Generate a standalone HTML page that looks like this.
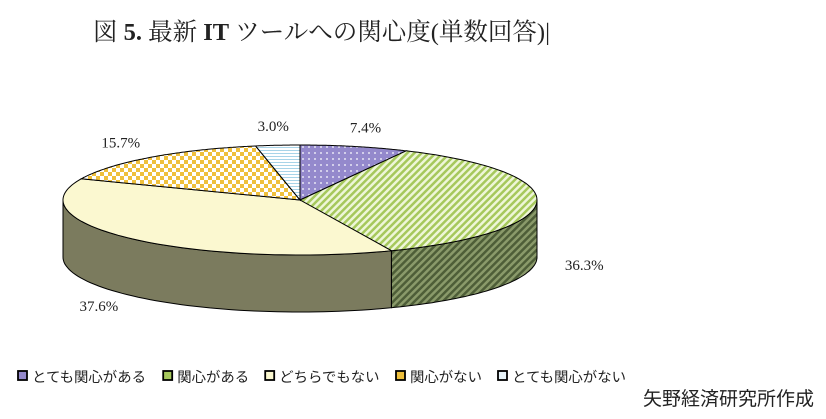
<!DOCTYPE html>
<html><head><meta charset="utf-8">
<style>
body{margin:0;background:#fff;width:826px;height:414px;overflow:hidden;}
svg text{font-family:"Liberation Serif","Noto Serif CJK SC",serif;}
</style></head>
<body>
<svg id="chart" width="826" height="414">
<defs>
<pattern id="p0" width="6" height="6" patternUnits="userSpaceOnUse"><rect width="6" height="6" fill="#9489cc"/><circle cx="3" cy="3" r="0.9" fill="#fff"/></pattern>
<pattern id="p1" width="5" height="5" patternUnits="userSpaceOnUse" patternTransform="rotate(45)"><rect width="5" height="5" fill="#eef6d8"/><rect width="2.5" height="5" fill="#a6c85c"/></pattern>
<pattern id="p1d" width="5" height="5" patternUnits="userSpaceOnUse" patternTransform="rotate(45)"><rect width="5" height="5" fill="#8a9a6a"/><rect width="2.5" height="5" fill="#4e5e38"/></pattern>
<pattern id="p2" width="6" height="6" patternUnits="userSpaceOnUse"><rect width="6" height="6" fill="#fbf8d0"/></pattern>
<pattern id="p3" width="8" height="8" patternUnits="userSpaceOnUse"><rect width="8" height="8" fill="#fff"/><rect width="4" height="4" fill="#efc03c"/><rect x="4" y="4" width="4" height="4" fill="#efc03c"/></pattern>
<pattern id="p4" width="4" height="3" patternUnits="userSpaceOnUse"><rect width="4" height="3" fill="#fff"/><rect width="4" height="1" fill="#a8d4e8"/></pattern>
</defs>
<text x="93" y="40" font-size="24.5" fill="#222">図 <tspan font-weight="bold">5.</tspan> 最新 <tspan font-weight="bold">IT</tspan> ツールへの関心度(単数回答)|</text>
<g id="pie"></g>
<g id="legend"></g>
<text x="814" y="405" font-size="19" text-anchor="end" fill="#222" style="font-family:'Liberation Sans','Noto Sans CJK JP',sans-serif">矢野経済研究所作成</text>
</svg>
<script>
const categories=["とても関心がある","関心がある","どちらでもない","関心がない","とても関心がない"];
const values=[7.4,36.3,37.6,15.7,3.0];
const labels=["7.4%","36.3%","37.6%","15.7%","3.0%"];
const fills=["url(#p0)","url(#p1)","url(#p2)","url(#p3)","url(#p4)"];
const sideFills=["#5a5a40","url(#p1d)","#7b7b5e","#7b7b5e","#7b7b5e"];
const legendSwatch=["#9489cc","#a6c85c","#fbf8d0","#efc03c","#e8f4fa"];
const cx=300,cy=200,rx=237,ry=55,depth=57;
const NS="http://www.w3.org/2000/svg";
const pie=document.getElementById('pie');
const total=values.reduce((a,b)=>a+b,0);
function pt(a,dy){return [cx+rx*Math.cos(a),cy+ry*Math.sin(a)+(dy||0)];}
function mk(tag,attrs){const e=document.createElementNS(NS,tag);for(const k in attrs)e.setAttribute(k,attrs[k]);return e;}
let angles=[];let acc=-90;
values.forEach(v=>{const a0=acc;acc+=v/total*360;angles.push([a0*Math.PI/180,acc*Math.PI/180]);});
angles.forEach(([a0,a1],i)=>{
  const segs=[[0,Math.PI],[2*Math.PI,3*Math.PI]];
  segs.forEach(([lo,hi])=>{
    const b0=Math.max(a0,lo),b1=Math.min(a1,hi);
    if(b1<=b0)return;
    let d="";const n=60;
    for(let k=0;k<=n;k++){const p=pt(b0+(b1-b0)*k/n);d+=(k?"L":"M")+p[0].toFixed(1)+","+p[1].toFixed(1);}
    for(let k=n;k>=0;k--){const p=pt(b0+(b1-b0)*k/n,depth);d+="L"+p[0].toFixed(1)+","+p[1].toFixed(1);}
    const path=mk('path',{d:d+"Z",fill:sideFills[i],stroke:"#000","stroke-width":"1"});
    
    
    pie.appendChild(path);
  });
});
angles.forEach(([a0,a1],i)=>{
  let d="M"+cx+","+cy;const n=80;
  for(let k=0;k<=n;k++){const p=pt(a0+(a1-a0)*k/n);d+="L"+p[0].toFixed(1)+","+p[1].toFixed(1);}
  const path=mk('path',{d:d+"Z",fill:fills[i],stroke:"#000","stroke-width":"1"});
  
  
  pie.appendChild(path);
  const m=(a0+a1)/2;
  let lx=cx+rx*1.2*Math.cos(m),ly=cy+ry*1.35*Math.sin(m);
  if(Math.sin(m)>0){ly=cy+ry*1.1*Math.sin(m)+depth+6;}
  const t=mk('text',{x:lx.toFixed(1),y:(ly+5).toFixed(1),"font-size":"15","text-anchor":"middle",fill:"#222"});
  t.textContent=labels[i];
  
  
  pie.appendChild(t);
});
const leg=document.getElementById('legend');
let x=18;
categories.forEach((c,i)=>{
  const g=mk('g',{});
  
  
  const r=mk('rect',{x:x,y:371,width:9,height:9,fill:legendSwatch[i],stroke:"#000","stroke-width":"1.8"});
  const t=mk('text',{x:x+14,y:382,"font-size":"14.4",fill:"#222",style:"font-family:'Liberation Sans','Noto Sans CJK JP',sans-serif"});
  t.textContent=c;
  g.appendChild(r);g.appendChild(t);leg.appendChild(g);
  x+=14+c.length*14.4+16;
});
</script>
</body></html>
